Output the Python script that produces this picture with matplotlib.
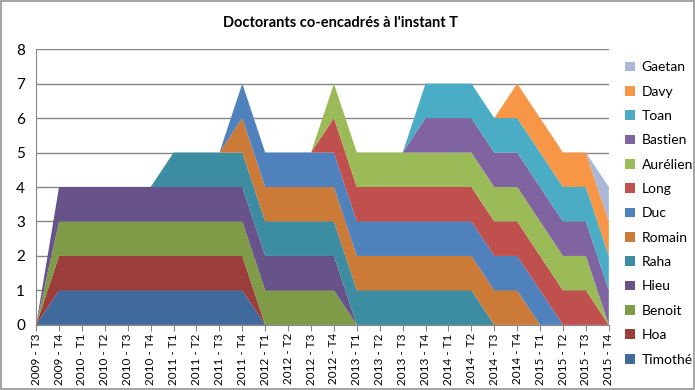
import numpy as np
import matplotlib
matplotlib.use("Agg")
import matplotlib.pyplot as plt
from matplotlib.patches import Patch

plt.rcParams['font.family'] = ['Lato', 'DejaVu Sans']

# ----- Quarters -----
quarters = ["2009 - T3", "2009 - T4",
            "2010 - T1", "2010 - T2", "2010 - T3", "2010 - T4",
            "2011 - T1", "2011 - T2", "2011 - T3", "2011 - T4",
            "2012 - T1", "2012 - T2", "2012 - T3", "2012 - T4",
            "2013 - T1", "2013 - T2", "2013 - T3", "2013 - T4",
            "2014 - T1", "2014 - T2", "2014 - T3", "2014 - T4",
            "2015 - T1", "2015 - T2", "2015 - T3", "2015 - T4"]

# ----- One row per PhD student (1 = co-supervised during that quarter) -----
timothe  = [0, 1, 1, 1, 1, 1, 1, 1, 1, 1, 0, 0, 0, 0, 0, 0, 0, 0, 0, 0, 0, 0, 0, 0, 0, 0]
hoa      = [0, 1, 1, 1, 1, 1, 1, 1, 1, 1, 0, 0, 0, 0, 0, 0, 0, 0, 0, 0, 0, 0, 0, 0, 0, 0]
benoit   = [0, 1, 1, 1, 1, 1, 1, 1, 1, 1, 1, 1, 1, 1, 0, 0, 0, 0, 0, 0, 0, 0, 0, 0, 0, 0]
hieu     = [0, 1, 1, 1, 1, 1, 1, 1, 1, 1, 1, 1, 1, 1, 0, 0, 0, 0, 0, 0, 0, 0, 0, 0, 0, 0]
raha     = [0, 0, 0, 0, 0, 0, 1, 1, 1, 1, 1, 1, 1, 1, 1, 1, 1, 1, 1, 1, 0, 0, 0, 0, 0, 0]
romain   = [0, 0, 0, 0, 0, 0, 0, 0, 0, 1, 1, 1, 1, 1, 1, 1, 1, 1, 1, 1, 1, 1, 0, 0, 0, 0]
duc      = [0, 0, 0, 0, 0, 0, 0, 0, 0, 1, 1, 1, 1, 1, 1, 1, 1, 1, 1, 1, 1, 1, 1, 0, 0, 0]
long_    = [0, 0, 0, 0, 0, 0, 0, 0, 0, 0, 0, 0, 0, 1, 1, 1, 1, 1, 1, 1, 1, 1, 1, 1, 1, 0]
aurelien = [0, 0, 0, 0, 0, 0, 0, 0, 0, 0, 0, 0, 0, 1, 1, 1, 1, 1, 1, 1, 1, 1, 1, 1, 1, 0]
bastien  = [0, 0, 0, 0, 0, 0, 0, 0, 0, 0, 0, 0, 0, 0, 0, 0, 0, 1, 1, 1, 1, 1, 1, 1, 1, 1]
toan     = [0, 0, 0, 0, 0, 0, 0, 0, 0, 0, 0, 0, 0, 0, 0, 0, 0, 1, 1, 1, 1, 1, 1, 1, 1, 1]
davy     = [0, 0, 0, 0, 0, 0, 0, 0, 0, 0, 0, 0, 0, 0, 0, 0, 0, 0, 0, 0, 0, 1, 1, 1, 1, 1]
gaetan   = [0, 0, 0, 0, 0, 0, 0, 0, 0, 0, 0, 0, 0, 0, 0, 0, 0, 0, 0, 0, 0, 0, 0, 0, 0, 1]

names = ["Timothé", "Hoa", "Benoit", "Hieu", "Raha", "Romain", "Duc",
         "Long", "Aurélien", "Bastien", "Toan", "Davy", "Gaetan"]
series = [timothe, hoa, benoit, hieu, raha, romain, duc,
          long_, aurelien, bastien, toan, davy, gaetan]
colors = ["#40699C", "#9B3D3B", "#7F9B48", "#68528A", "#3C8CA2", "#CB7A38",
          "#4F81BD", "#C0504D", "#9BBB59", "#8064A2", "#4BACC6", "#F79646",
          "#A9B8D8"]

# ----- Figure -----
fig = plt.figure(figsize=(6.95, 3.9), dpi=100)
fig.patch.set_edgecolor("#A6A6A6")
fig.patch.set_linewidth(1.5)
ax = fig.add_axes([0.052, 0.167, 0.824, 0.707])

x = np.arange(len(quarters))
ax.stackplot(x, *series, colors=colors, labels=names, linewidth=0)

ax.set_xlim(0, len(quarters) - 1)
ax.set_ylim(0, 8)
ax.set_yticks(range(0, 9))
ax.set_xticks(x)
ax.set_xticklabels(quarters, rotation=90, fontsize=8.5)
ax.tick_params(axis="y", length=0, labelsize=11, pad=8)
ax.tick_params(axis="x", length=4, color="#868686", pad=2)

ax.grid(axis="y", color="#868686", linewidth=1)
ax.set_axisbelow(True)
for side in ("top", "right"):
    ax.spines[side].set_visible(False)
ax.spines["left"].set_color("#868686")
ax.spines["bottom"].set_color("#868686")

fig.text(0.49, 0.94, "Doctorants co-encadrés à l'instant T",
         ha="center", va="center", fontsize=10.5, fontweight="bold")

# legend, top entry = last series
handles = [Patch(facecolor=c, edgecolor="none") for c in colors][::-1]
fig.legend(handles, names[::-1], loc="upper left",
           bbox_to_anchor=(0.899, 0.843), frameon=False, fontsize=10,
           handlelength=0.7, handleheight=0.7, handletextpad=0.5,
           labelspacing=0.89, borderaxespad=0, borderpad=0)

fig.savefig("out.png", dpi=100)
